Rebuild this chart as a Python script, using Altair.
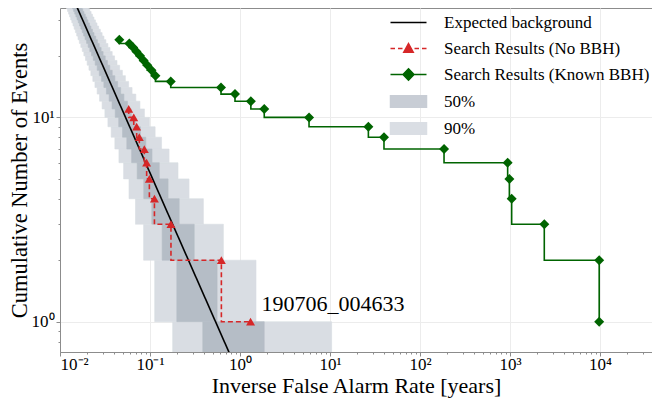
import altair as alt
import pandas as pd

# ---------------- data ----------------
# expected background line (end points, clipped by the axes)
bg_x = [0.01, 1.0]
bg_y = [53.5, 0.535]

# search results, no known BBH
red_x = [1.31, 0.621, 0.171, 0.112, 0.0984, 0.0918, 0.0865, 0.0761, 0.0711, 0.066, 0.058]
red_y = [1, 2, 3, 4, 5, 6, 7, 8, 9, 10, 11]

# search results, with known BBH
green_x = [9800, 9800, 2405, 1044, 984, 942, 185, 39.8, 26.7, 5.85, 1.86, 1.32, 0.88,
           0.615, 0.170, 0.115, 0.104, 0.0934, 0.0849, 0.0774, 0.0707, 0.065, 0.0589, 0.0456]
green_y = [1, 2, 3, 4, 5, 6, 7, 8, 9, 10, 11, 12, 13, 14, 15, 16, 17, 18, 19, 20, 21, 22, 23, 24]

# background bands: one box per count level (from y_lo to y_hi)
band_y_lo = [0.5, 1, 2, 3, 4, 5, 6, 7, 8, 9, 10, 11, 12, 13, 14, 15, 16, 17, 18, 19, 20,
             21, 22, 23, 24, 25, 26, 27, 28, 29, 30, 31, 32, 33, 34]
band_y_hi = [1, 2, 3, 4, 5, 6, 7, 8, 9, 10, 11, 12, 13, 14, 15, 16, 17, 18, 19, 20, 21,
             22, 23, 24, 25, 26, 27, 28, 29, 30, 31, 32, 33, 34, 35]
light_lo = [0.1786, 0.1128, 0.08497, 0.06900, 0.05844, 0.05089, 0.04518, 0.04069, 0.03706,
            0.03407, 0.03154, 0.02938, 0.02752, 0.02588, 0.02444, 0.02316, 0.02202, 0.02098,
            0.02004, 0.01919, 0.01841, 0.01769, 0.01703, 0.01642, 0.01585, 0.01532, 0.01483,
            0.01437, 0.01394, 0.01353, 0.01315, 0.01279, 0.01245, 0.01212, 0.01182]
light_hi = [10.43, 1.507, 0.6540, 0.3917, 0.2716, 0.2047, 0.1629, 0.1344, 0.1140, 0.09862,
            0.08672, 0.07727, 0.06958, 0.06321, 0.05786, 0.05329, 0.04938, 0.04598, 0.04300,
            0.04036, 0.03802, 0.03592, 0.03403, 0.03233, 0.03078, 0.02937, 0.02807, 0.02688,
            0.02579, 0.02477, 0.02384, 0.02296, 0.02215, 0.02139, 0.02068]
dark_lo = [0.3860, 0.1987, 0.1365, 0.1047, 0.08527, 0.07208, 0.06251, 0.05525, 0.04952,
           0.04491, 0.04109, 0.03789, 0.03516, 0.03280, 0.03075, 0.02894, 0.02734, 0.02591,
           0.02462, 0.02346, 0.02240, 0.02144, 0.02055, 0.01974, 0.01899, 0.01830, 0.01766,
           0.01706, 0.01650, 0.01597, 0.01548, 0.01502, 0.01459, 0.01418, 0.01379]
dark_hi = [1.858, 0.5567, 0.3098, 0.2110, 0.1588, 0.1268, 0.1053, 0.08983, 0.07824, 0.06925,
           0.06206, 0.05620, 0.05133, 0.04722, 0.04371, 0.04068, 0.03803, 0.03570, 0.03364,
           0.03179, 0.03013, 0.02864, 0.02728, 0.02605, 0.02492, 0.02388, 0.02293, 0.02204,
           0.02122, 0.02046, 0.01975, 0.01909, 0.01847, 0.01789, 0.01734]

# annotation
ann_x = [1.31]
ann_y = [1]
ann_text = ["190706_004633"]

# legend entries
legend_names = ["Expected background", "Search Results (No BBH)",
                "Search Results (Known BBH)", "50%", "90%"]
legend_colors = ["#000000", "#d62728", "#006400", "#c8cdd5", "#dadee4"]
legend_paths = [
    "M-3.6,0H3.6",
    "M-3.6,0H-2.7M-2.1,0H-1.2M1.2,0H2.1M2.7,0H3.6M0,-1.0L0.95,0.75L-0.95,0.75Z",
    "M-3.6,0H3.6M0,-1.15L1.1,0L0,1.15L-1.1,0Z",
    "M-3.6,-1.15H3.6V1.15H-3.6Z",
    "M-3.6,-1.15H3.6V1.15H-3.6Z",
]

# axis ticks
x_ticks = [m * 10.0 ** e for e in range(-2, 5) for m in range(1, 10) if m * 10.0 ** e <= 37000]
y_ticks = [0.8, 0.9, 1, 2, 3, 4, 5, 6, 7, 8, 9, 10, 20, 30]

FONT = "Liberation Serif"
MAJOR = "abs(log(datum.value)/LN10 - round(log(datum.value)/LN10)) < 0.001"

# ---------------- chart ----------------
xs = alt.Scale(type="log", domain=[0.01, 37840], nice=False)
ys = alt.Scale(type="log", domain=[0.711, 34.3], nice=False)

x_axis = alt.Axis(
    values=x_ticks,
    labelExpr="(" + MAJOR + ") ? '10' + ['⁻²','⁻¹','⁰','¹','²','³','⁴'][round(log(datum.value)/LN10)+2] : ''",
    title="Inverse False Alarm Rate [years]",
    gridOpacity={"condition": {"test": MAJOR, "value": 1}, "value": 0},
    tickSize={"condition": {"test": MAJOR, "value": 4}, "value": 2},
    labelFontSize=17, titleFontSize=22, labelPadding=0, titlePadding=3,
)
y_axis = alt.Axis(
    values=y_ticks,
    labelExpr="(" + MAJOR + ") ? '10' + ['⁰','¹'][round(log(datum.value)/LN10)] : ''",
    title="Cumulative Number of Events",
    gridOpacity={"condition": {"test": MAJOR, "value": 1}, "value": 0},
    tickSize={"condition": {"test": MAJOR, "value": 4}, "value": 2},
    labelFontSize=17, titleFontSize=22.5, labelPadding=2,
    titleX=-34, titleBaseline="alphabetic",
)

bands = pd.DataFrame({"y_lo": band_y_lo, "y_hi": band_y_hi,
                      "l_lo": light_lo, "l_hi": light_hi,
                      "d_lo": dark_lo, "d_hi": dark_hi})

light = alt.Chart(bands).mark_rect(color="#d9dde3", stroke="#d9dde3", strokeWidth=0.6, clip=True).encode(
    x=alt.X("l_lo:Q", scale=xs, axis=x_axis),
    x2="l_hi:Q",
    y=alt.Y("y_lo:Q", scale=ys, axis=y_axis),
    y2="y_hi:Q",
)
dark = alt.Chart(bands).mark_rect(color="#b5bdc6", stroke="#b5bdc6", strokeWidth=0.6, clip=True).encode(
    x=alt.X("d_lo:Q", scale=xs), x2="d_hi:Q",
    y=alt.Y("y_lo:Q", scale=ys), y2="y_hi:Q",
)

bg = alt.Chart(pd.DataFrame({"x": bg_x, "y": bg_y})).mark_line(
    color="black", strokeWidth=1.6, clip=True
).encode(x=alt.X("x:Q", scale=xs), y=alt.Y("y:Q", scale=ys))

red_df = pd.DataFrame({"x": red_x, "y": red_y})
red_line = alt.Chart(red_df).mark_line(
    color="#d62728", strokeWidth=1.6, strokeDash=[5, 3], interpolate="step-before", clip=True
).encode(x=alt.X("x:Q", scale=xs), y=alt.Y("y:Q", scale=ys),
         order=alt.Order("y:Q", sort="descending"))
red_pts = alt.Chart(red_df).mark_point(
    shape="triangle-up", filled=True, color="#d62728", size=80, opacity=1, clip=True
).encode(x=alt.X("x:Q", scale=xs), y=alt.Y("y:Q", scale=ys))

green_df = pd.DataFrame({"x": green_x, "y": green_y})
green_line = alt.Chart(green_df).mark_line(
    color="#006400", strokeWidth=1.6, interpolate="step-before", clip=True
).encode(x=alt.X("x:Q", scale=xs), y=alt.Y("y:Q", scale=ys),
         order=alt.Order("y:Q", sort="descending"))
green_pts = alt.Chart(green_df).mark_point(
    shape="diamond", filled=True, color="#006400", size=100, opacity=1, clip=True
).encode(x=alt.X("x:Q", scale=xs), y=alt.Y("y:Q", scale=ys))

ann = alt.Chart(pd.DataFrame({"x": ann_x, "y": ann_y, "t": ann_text})).mark_text(
    align="left", baseline="alphabetic", dx=11, dy=-11, fontSize=22, font=FONT, color="black"
).encode(x=alt.X("x:Q", scale=xs), y=alt.Y("y:Q", scale=ys), text="t:N")

leg_df = pd.DataFrame({"series": legend_names})
legend = alt.Legend(
    title=None, orient="none", legendX=340, legendY=6, symbolSize=100,
    symbolStrokeWidth=1.5, symbolOpacity=1, labelFontSize=17, labelFont=FONT,
    labelOffset=27, rowPadding=8, labelColor="black", labelLimit=400,
)
leg = alt.Chart(leg_df).mark_point(filled=True, opacity=0).encode(
    fill=alt.Fill("series:N", scale=alt.Scale(domain=legend_names, range=legend_colors), legend=legend),
    stroke=alt.Stroke("series:N", scale=alt.Scale(domain=legend_names, range=legend_colors), legend=legend),
    shape=alt.Shape("series:N", scale=alt.Scale(domain=legend_names, range=legend_paths), legend=legend),
)

chart = alt.layer(light, dark, bg, red_line, red_pts, green_line, green_pts, ann, leg).properties(
    width=592, height=344,
    autosize=alt.AutoSizeParams(type="none"),
    padding={"left": 52, "top": 0, "right": 0, "bottom": 50},
).configure(
    font=FONT,
).configure_view(
    stroke="#8c8c8c", strokeWidth=1,
).configure_axis(
    gridColor="#ececec", gridWidth=1, domainColor="#8c8c8c", tickColor="#8c8c8c",
    labelFont=FONT, titleFont=FONT, titleFontWeight="normal",
    labelColor="black", titleColor="black",
)

chart.save("out.html", embed_options={"renderer": "svg", "actions": False})
